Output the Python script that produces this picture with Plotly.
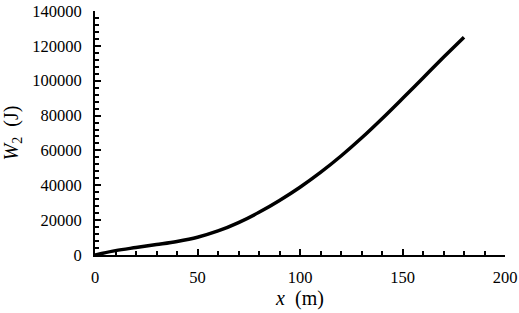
import plotly.graph_objects as go

x_m = [0, 10, 20, 30, 40, 50, 60, 70, 80, 90, 100, 110, 120, 130, 140, 150, 160, 170, 180]
w2_j = [0, 2500, 4300, 6000, 7800, 10200, 13800, 18600, 24500, 31300, 38900, 47400,
        56800, 67100, 78200, 89800, 101600, 113400, 125000]

x_ticks = [0, 50, 100, 150, 200]
y_ticks = [0, 20000, 40000, 60000, 80000, 100000, 120000, 140000]

FONT = "Liberation Serif"

fig = go.Figure()
fig.add_trace(go.Scatter(x=x_m, y=w2_j, mode="lines",
                         line=dict(color="black", width=3.5, shape="spline", smoothing=1.0),
                         showlegend=False))

axis_common = dict(
    showline=True, linecolor="black", linewidth=2,
    showgrid=False, zeroline=False, automargin=False,
    ticks="inside", ticklen=6, tickwidth=2, tickcolor="black",
    tickfont=dict(family=FONT, size=16.5, color="black"),
)

fig.update_layout(
    width=519, height=313,
    margin=dict(l=95, r=14, t=11, b=58),
    paper_bgcolor="white", plot_bgcolor="white",
    font=dict(family=FONT, color="black"),
    xaxis=dict(**axis_common, range=[0, 200], tickvals=x_ticks,
               ticktext=[str(v) for v in x_ticks],
               minor=dict(dtick=10, ticks="inside", ticklen=4, tickwidth=1.5, tickcolor="black"),
               ticklabelstandoff=6,
               title=dict(text="<i>x</i>  (m)", font=dict(family=FONT, size=20), standoff=1)),
    yaxis=dict(**axis_common, range=[0, 140000], tickvals=y_ticks,
               ticktext=[str(v) for v in y_ticks],
               minor=dict(dtick=4000, ticks="inside", ticklen=4, tickwidth=1.5, tickcolor="black"),
               ticklabelstandoff=8,
               title=dict(text="<i>W</i><sub>2</sub>  (J)", font=dict(family=FONT, size=20), standoff=8)),
)

fig.write_html("out.html",
               config={"displayModeBar": False},
               post_script="document.body.style.margin='0';document.body.style.overflow='hidden';")
